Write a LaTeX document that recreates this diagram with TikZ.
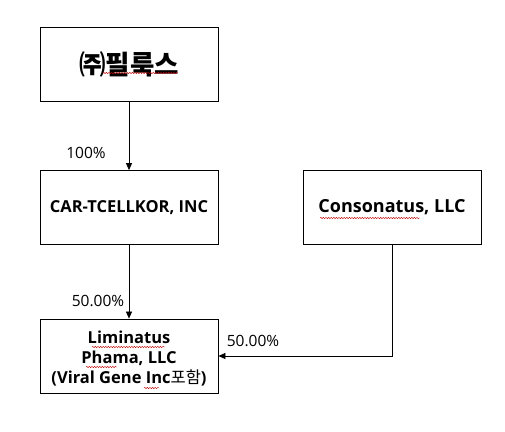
\documentclass[tikz,border=0pt]{standalone}
\usepackage{fontspec}
\setmainfont{Open Sans}
\newfontfamily\kr{Noto Sans CJK KR}
\usetikzlibrary{arrows.meta,decorations.pathmorphing}
\begin{document}
\begin{tikzpicture}[x=1pt,y=-1pt,
  boxst/.style={draw,line width=0.8pt,minimum width=178pt,minimum height=74pt,inner sep=0pt,align=center,font=\bfseries\fontsize{16.5}{20}\selectfont},
  txtst/.style={inner sep=0pt,align=center,font=\bfseries\fontsize{16.5}{20}\selectfont},
  conn/.style={line width=0.7pt,-{Triangle[length=7pt,width=6pt]}},
  pct/.style={font=\fontsize{15.5}{18}\selectfont,inner sep=0pt},
  squig/.style={red!75!black,line width=0.4pt,decorate,decoration={snake,amplitude=0.7pt,segment length=2.6pt}}]
\useasboundingbox (0,0) rectangle (505,431);
\fill[white] (0,0) rectangle (505,431);
\node[boxst] (pil) at (129,64.5) {{\kr\fontsize{26.5}{30}\selectfont ㈜\bfseries 필룩스}};
\node[boxst] (car) at (129,207.5) {CAR-TCELLKOR, INC};
\node[boxst] (con) at (392,207.5) {\fontsize{18}{22}\selectfont Consonatus, LLC};
\node[boxst] (lim) at (129,356) {};
\node[txtst] (limtxt) at (129,359) {Liminatus\\Phama, LLC\\(Viral Gene Inc{\kr\mdseries 포함})};
\draw[conn] (pil.south) -- (car.north);
\draw[conn] (car.south) -- (lim.north);
\coordinate (bend) at (con.south |- lim.east);
\draw[conn] (con.south) -- (bend) -- (lim.east);
\node[pct] (p1) at (86,153) {100\%};
\node[pct] (p2) at (98,301) {50.00\%};
\node[pct] (p3) at (253,341) {50.00\%};
\draw[squig] (103,73) -- (178,73);
\draw[squig] (320,218) -- (420,218);
\draw[squig] (92,347) -- (165,347);
\draw[squig] (86,367) -- (117,367);
\draw[squig] (144,388) -- (159,388);
\end{tikzpicture}
\end{document}
